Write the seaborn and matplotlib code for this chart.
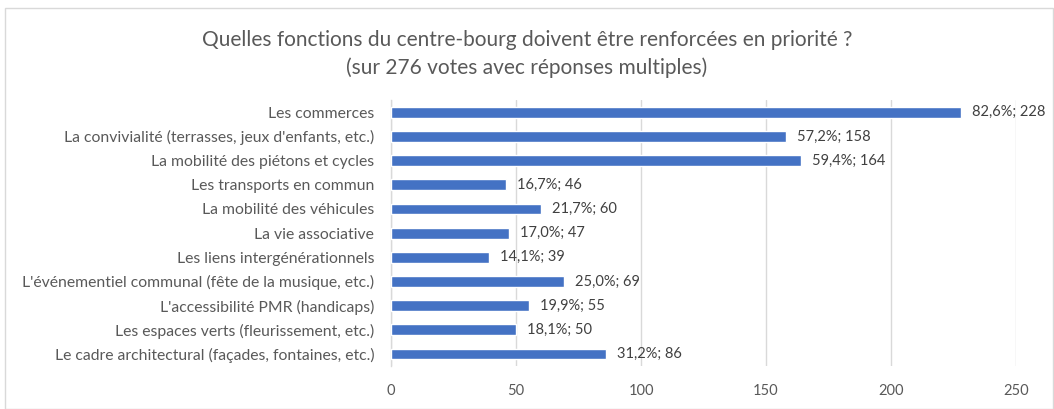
import matplotlib
matplotlib.use("Agg")
import matplotlib.pyplot as plt
import seaborn as sns
import pandas as pd
from matplotlib.patches import Rectangle

categories = [
    "Les commerces",
    "La convivialité (terrasses, jeux d'enfants, etc.)",
    "La mobilité des piétons et cycles",
    "Les transports en commun",
    "La mobilité des véhicules",
    "La vie associative",
    "Les liens intergénérationnels",
    "L'événementiel communal (fête de la musique, etc.)",
    "L'accessibilité PMR (handicaps)",
    "Les espaces verts (fleurissement, etc.)",
    "Le cadre architectural (façades, fontaines, etc.)",
]
votes = [228, 158, 164, 46, 60, 47, 39, 69, 55, 50, 86]
percents = ["82,6%", "57,2%", "59,4%", "16,7%", "21,7%", "17,0%", "14,1%", "25,0%", "19,9%", "18,1%", "31,2%"]
xticks = [0, 50, 100, 150, 200, 250]
title = "Quelles fonctions du centre-bourg doivent être renforcées en priorité ?\n(sur 276 votes avec réponses multiples)"

sns.set_theme(style="white")
plt.rcParams["font.family"] = ["Lato", "DejaVu Sans"]

df = pd.DataFrame({"cat": categories, "votes": votes})

fig = plt.figure(figsize=(10.54, 4.09), dpi=100)
ax = fig.add_axes([0.371, 0.105, 0.593, 0.65])

sns.barplot(data=df, y="cat", x="votes", orient="h", color="#4472C4",
            width=0.45, saturation=1, ax=ax, zorder=3)

ax.set_xlim(0, 250)
ax.set_ylim(10.5, -0.5)
ax.set_xticks(xticks)
ax.set_xticklabels([str(t) for t in xticks])
ax.set_xlabel("")
ax.set_ylabel("")
ax.grid(axis="x", color="#D9D9D9", linewidth=1, zorder=0)
ax.grid(axis="y", visible=False)
for s in ["top", "right", "bottom"]:
    ax.spines[s].set_visible(False)
ax.spines["left"].set_color("#D9D9D9")
ax.spines["left"].set_linewidth(1)
ax.tick_params(axis="both", length=0, colors="#595959", labelsize=10.5)
ax.tick_params(axis="y", labelsize=11.3, pad=12)
ax.tick_params(axis="x", pad=13)

for i, (v, p) in enumerate(zip(votes, percents)):
    ax.annotate(f"{p}; {v}", xy=(v, i), xytext=(8, 0), textcoords="offset points",
                va="center", ha="left", fontsize=10.5, color="#404040")

fig.text(0.5, 0.867, title, ha="center", va="center", fontsize=15, color="#595959",
         linespacing=1.45)

fig.patches.append(Rectangle((0.005, 0.0), 0.994, 0.98, transform=fig.transFigure,
                             fill=False, edgecolor="#D9D9D9", linewidth=1))

fig.savefig("out.png", dpi=100)
